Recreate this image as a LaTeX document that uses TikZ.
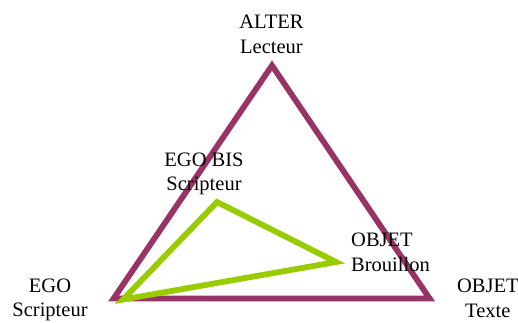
\documentclass[tikz,border=0pt]{standalone}
\usepackage{fontspec}
\setmainfont{Liberation Serif}
\definecolor{plum}{HTML}{993366}
\definecolor{lime}{HTML}{99CC00}
\begin{document}
\begin{tikzpicture}[x=1pt,y=-1pt,
  lbl/.style={inner sep=0pt, anchor=base, font=\fontsize{20.5}{24.3}\selectfont},
  tri/.style={line width=5.8pt, line join=miter}]
\useasboundingbox (0,0) rectangle (518,322);
% outer triangle
\coordinate (alter) at (272,65.5);
\coordinate (ego) at (113.6,298.5);
\coordinate (texte) at (429.6,298.5);
% inner triangle
\coordinate (egobis) at (217,202);
\coordinate (brouillon) at (336,262);
\coordinate (ego2) at (123,299.5);
\draw[tri, plum] (alter) -- (texte) -- (ego) -- cycle;
\draw[tri, lime] (egobis) -- (brouillon) -- (ego2) -- cycle;
% labels
\node[lbl] (Lalter) at (271.5,28.7) {\begin{tabular}[t]{@{}c@{}}ALTER\\Lecteur\end{tabular}};
\node[lbl] (Legobis) at (204,166) {\begin{tabular}[t]{@{}c@{}}EGO BIS\\Scripteur\end{tabular}};
\node[lbl, anchor=base west, font=\fontsize{20.5}{25.6}\selectfont] (Lbrouillon) at (351,246) {\begin{tabular}[t]{@{}l@{}}OBJET\\Brouillon\end{tabular}};
\node[lbl] (Ltexte) at (487.8,292.7) {\begin{tabular}[t]{@{}c@{}}OBJET\\Texte\end{tabular}};
\node[lbl] (Lego) at (50,292.5) {\begin{tabular}[t]{@{}c@{}}EGO\\Scripteur\end{tabular}};
\end{tikzpicture}
\end{document}
